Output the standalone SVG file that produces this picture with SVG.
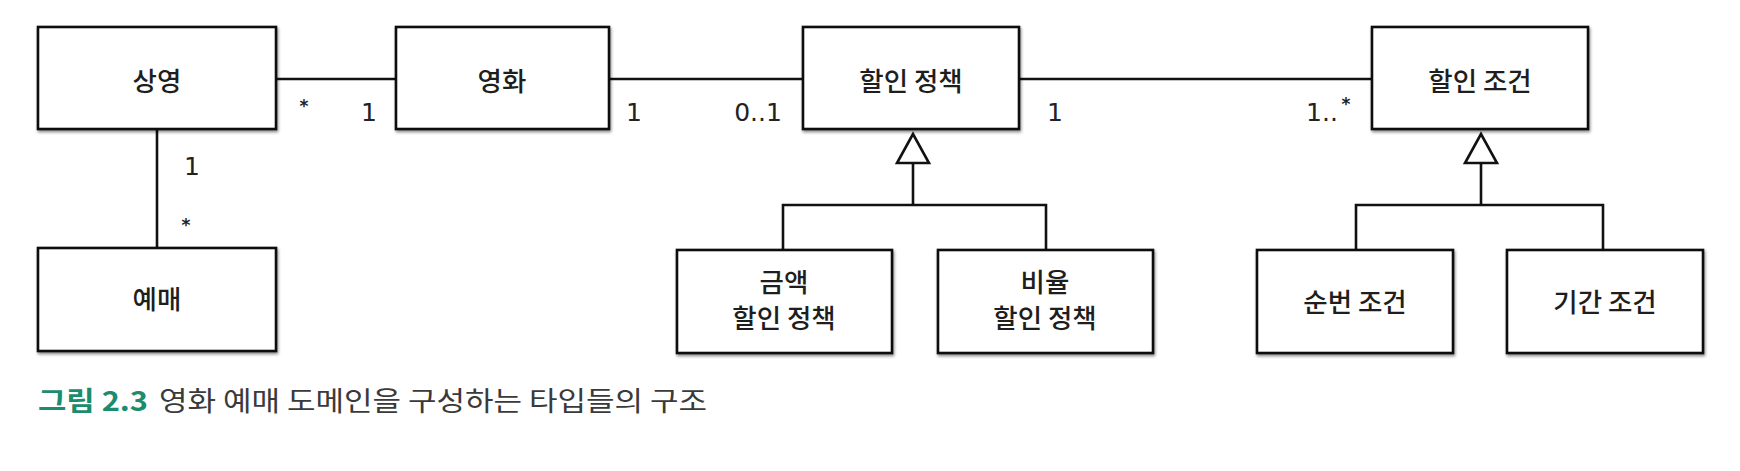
<svg xmlns="http://www.w3.org/2000/svg" width="1740" height="471" viewBox="0 0 1740 471">
<defs>
<filter id="sh" x="-10%" y="-10%" width="120%" height="130%">
<feDropShadow dx="1" dy="2" stdDeviation="1.5" flood-color="#000" flood-opacity="0.45"/>
</filter>
<style>
.box{fill:#fff;stroke:#111;stroke-width:2.6;filter:url(#sh)}
.lbl{font-family:"Noto Sans CJK KR","Noto Sans",sans-serif;font-size:26.5px;font-weight:500;fill:#1e1e1e;text-anchor:middle}
.mul{font-family:"DejaVu Sans",sans-serif;font-size:25px;fill:#222;text-anchor:middle}
.star{font-family:"DejaVu Sans",sans-serif;font-size:17px;font-weight:bold;fill:#222;text-anchor:middle}
.ln{fill:none;stroke:#111;stroke-width:2.6}
.tri{fill:#fff;stroke:#111;stroke-width:2.6;stroke-linejoin:miter}
.cap{font-family:"Noto Sans CJK KR","Noto Sans",sans-serif;font-size:27px}
</style>
</defs>
<rect width="1740" height="471" fill="#fff"/>

<g id="connectors">
<line class="ln" x1="276" y1="79" x2="396" y2="79"/>
<line class="ln" x1="609" y1="79" x2="803" y2="79"/>
<line class="ln" x1="1019" y1="79" x2="1372" y2="79"/>
<line class="ln" x1="157" y1="129" x2="157" y2="248"/>
<polyline class="ln" points="913,163 913,205"/>
<polyline class="ln" points="783,250 783,205 1046,205 1046,250"/>
<polygon class="tri" points="913,134 897,163 929,163"/>
<polyline class="ln" points="1481,163 1481,205"/>
<polyline class="ln" points="1356,250 1356,205 1603,205 1603,250"/>
<polygon class="tri" points="1481,134 1465,163 1497,163"/>
<text class="star" x="304" y="112">*</text>
<text class="mul" x="369" y="121">1</text>
<text class="mul" x="192" y="175">1</text>
<text class="star" x="186" y="231">*</text>
<text class="mul" x="634" y="121">1</text>
<text class="mul" x="758" y="121">0..1</text>
<text class="mul" x="1055" y="121">1</text>
<text class="mul" x="1322" y="121">1..</text>
<text class="star" x="1346" y="110">*</text>
</g>

<g id="screening"><rect class="box" x="38" y="27" width="238" height="102"/><text class="lbl" x="157" y="91">상영</text></g>
<g id="movie"><rect class="box" x="396" y="27" width="213" height="102"/><text class="lbl" x="502" y="91">영화</text></g>
<g id="discount-policy"><rect class="box" x="803" y="27" width="216" height="102"/><text class="lbl" x="911" y="91">할인 정책</text></g>
<g id="discount-condition"><rect class="box" x="1372" y="27" width="216" height="102"/><text class="lbl" x="1480" y="91">할인 조건</text></g>
<g id="reservation"><rect class="box" x="38" y="248" width="238" height="103"/><text class="lbl" x="157" y="309">예매</text></g>
<g id="amount-policy"><rect class="box" x="677" y="250" width="215" height="103"/><text class="lbl" x="784" y="292">금액</text><text class="lbl" x="784" y="328">할인 정책</text></g>
<g id="percent-policy"><rect class="box" x="938" y="250" width="215" height="103"/><text class="lbl" x="1045" y="292">비율</text><text class="lbl" x="1045" y="328">할인 정책</text></g>
<g id="sequence-condition"><rect class="box" x="1257" y="250" width="196" height="103"/><text class="lbl" x="1355" y="312">순번 조건</text></g>
<g id="period-condition"><rect class="box" x="1507" y="250" width="196" height="103"/><text class="lbl" x="1605" y="312">기간 조건</text></g>

<g id="caption">
<text class="cap" x="38" y="411" fill="#1b8c6e" font-weight="bold" textLength="110" lengthAdjust="spacingAndGlyphs">그림 2.3</text>
<text class="cap" x="159" y="411" fill="#3a3a3a" textLength="548" lengthAdjust="spacingAndGlyphs">영화 예매 도메인을 구성하는 타입들의 구조</text>
</g>
</svg>
